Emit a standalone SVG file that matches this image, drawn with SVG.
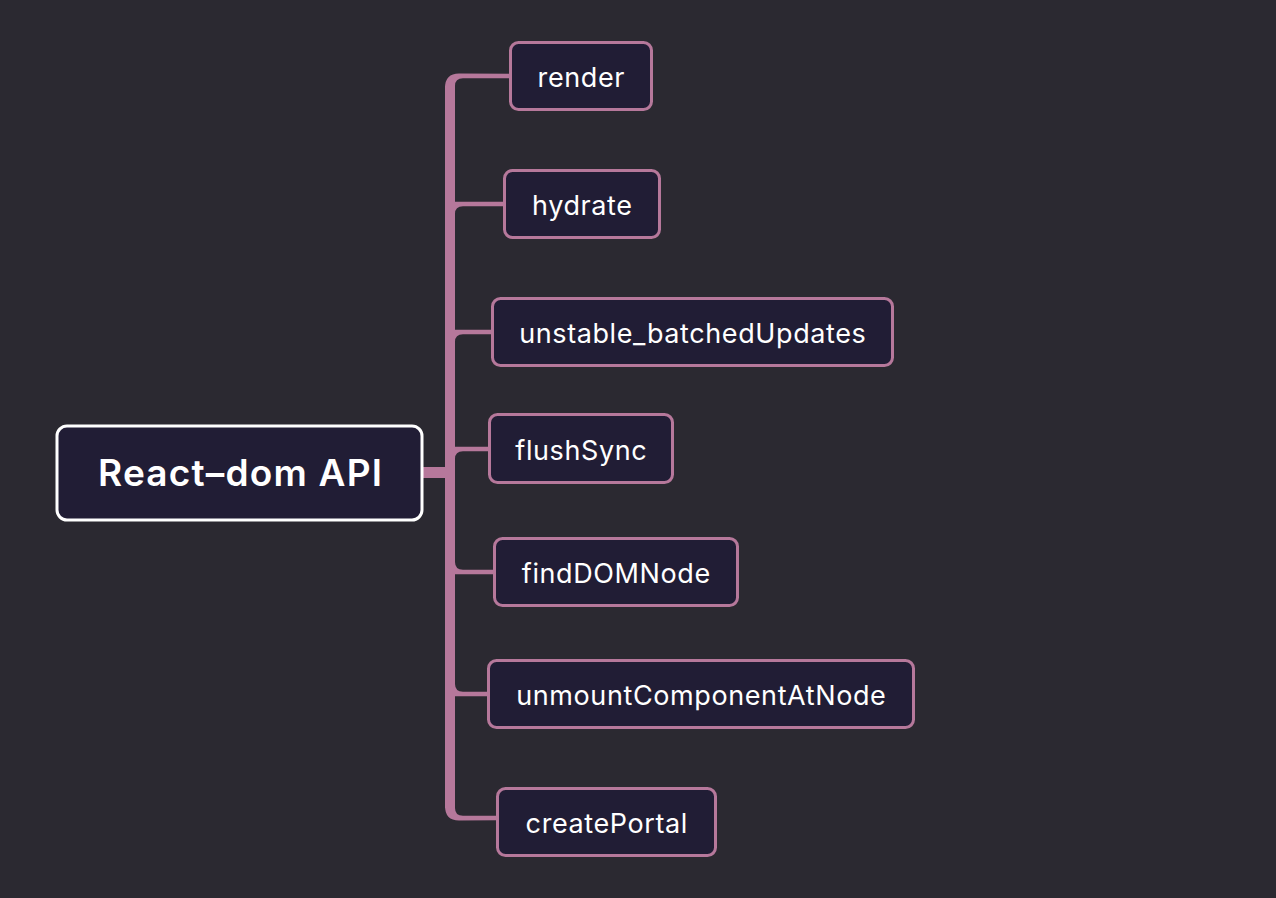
<svg xmlns="http://www.w3.org/2000/svg" width="1276" height="898" viewBox="0 0 1276 898">
<style>
.bg{fill:#2b2931}
.br{fill:#b6789b}
.box{fill:#211d35;stroke:#b6789b;stroke-width:3}
.rootbox{fill:#211d35;stroke:#ffffff;stroke-width:3}
.t{font-family:Inter,"Liberation Sans",sans-serif;font-size:27px;letter-spacing:0.6px;fill:#ffffff;text-anchor:middle}
.rt{font-family:Inter,"Liberation Sans",sans-serif;font-size:37px;letter-spacing:1.2px;font-weight:600;fill:#ffffff;text-anchor:middle}
</style>
<rect class="bg" x="0" y="0" width="1276" height="898"/>
<g id="connectors">
<rect class="br" x="421" y="467" width="26" height="11"/>
<rect class="br" x="445" y="86" width="10" height="722"/>
<path class="br" d="M445 88 Q445 73.5 459 73.5 L511 73.8 L511 78.2 L463 78.2 Q455 78.2 455 86 L455 88 Z"/>
<path class="br" d="M455 201.7 L505 201.7 L505 206.3 L463 206.3 Q455 206.3 455 214 Z"/>
<path class="br" d="M455 329.7 L493 329.7 L493 334.3 L463 334.3 Q455 334.3 455 342 Z"/>
<path class="br" d="M455 446.7 L490 446.7 L490 451.3 L463 451.3 Q455 451.3 455 459 Z"/>
<path class="br" d="M455 562 Q455 569.7 463 569.7 L495 569.7 L495 574.3 L455 574.3 Z"/>
<path class="br" d="M455 684 Q455 691.7 463 691.7 L489 691.7 L489 696.3 L455 696.3 Z"/>
<path class="br" d="M445 806 Q445 820.5 459 820.5 L498 820.2 L498 815.8 L463 815.8 Q455 815.8 455 808 L455 806 Z"/>
</g>
<g id="root">
<rect class="rootbox" x="57" y="426" width="365" height="94" rx="10"/>
<text class="rt" x="240.6" y="486">React–dom API</text>
</g>
<g id="render">
<rect class="box" x="510.5" y="42.5" width="141" height="67" rx="8"/>
<text class="t" x="581.3" y="87">render</text>
</g>
<g id="hydrate">
<rect class="box" x="504.5" y="170.5" width="155" height="67" rx="8"/>
<text class="t" x="582.3" y="215">hydrate</text>
</g>
<g id="unstable_batchedUpdates">
<rect class="box" x="492.5" y="298.5" width="400" height="67" rx="8"/>
<text class="t" x="692.8" y="343">unstable_batchedUpdates</text>
</g>
<g id="flushSync">
<rect class="box" x="489.5" y="414.5" width="183" height="68" rx="8"/>
<text class="t" x="581.3" y="460">flushSync</text>
</g>
<g id="findDOMNode">
<rect class="box" x="494.5" y="538.5" width="243" height="67" rx="8"/>
<text class="t" x="616.3" y="583">findDOMNode</text>
</g>
<g id="unmountComponentAtNode">
<rect class="box" x="488.5" y="660.5" width="425" height="67" rx="8"/>
<text class="t" x="701.3" y="705">unmountComponentAtNode</text>
</g>
<g id="createPortal">
<rect class="box" x="497.5" y="788.5" width="218" height="67" rx="8"/>
<text class="t" x="606.8" y="833">createPortal</text>
</g>
</svg>
